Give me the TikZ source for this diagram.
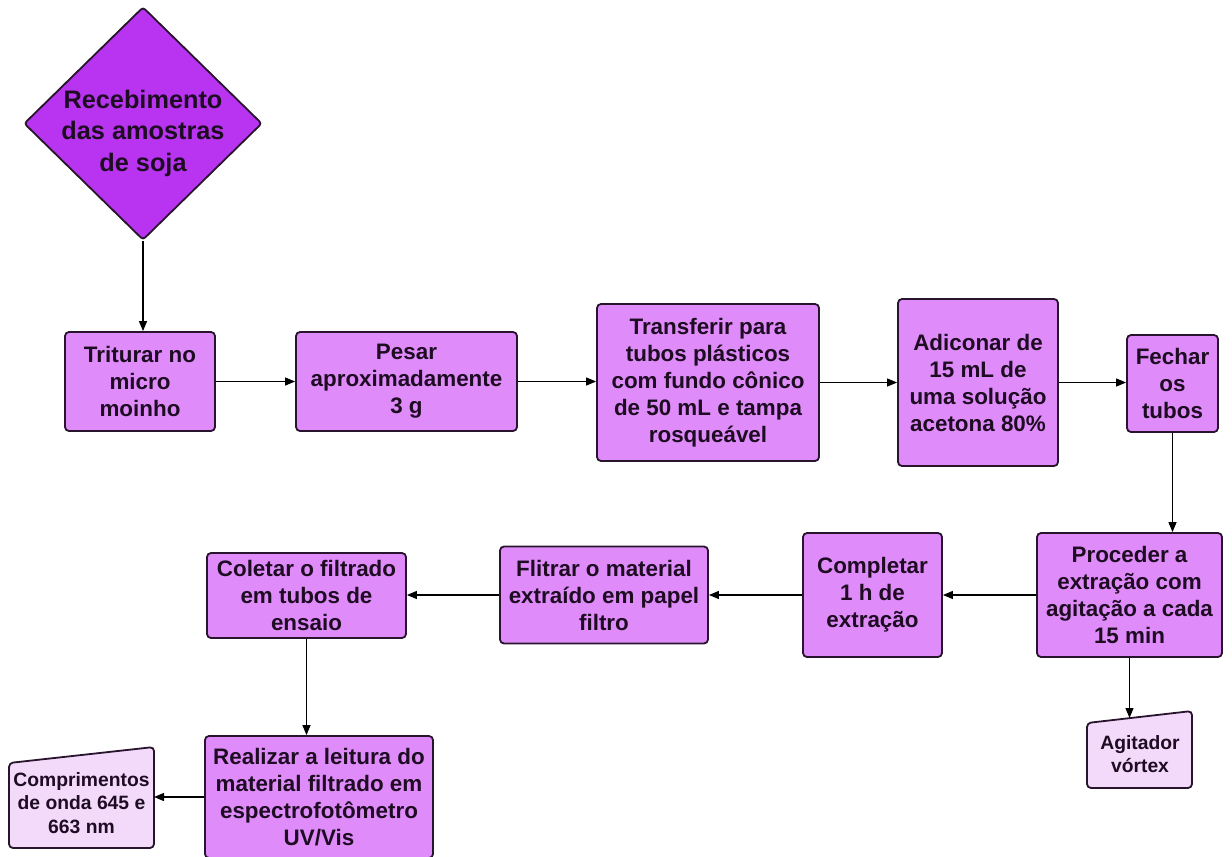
\documentclass[tikz,border=0pt]{standalone}
\usepackage{fontspec}
\setmainfont{Liberation Sans}
\usetikzlibrary{shapes.geometric,arrows.meta}
\definecolor{diamfill}{RGB}{185,52,240}
\definecolor{boxfill}{RGB}{224,139,250}
\definecolor{trapfill}{RGB}{243,218,251}
\definecolor{edge}{RGB}{40,20,45}
\definecolor{txt}{RGB}{30,12,35}
\begin{document}
\begin{tikzpicture}[x=1pt,y=-1pt,
  box/.style={draw=edge, fill=boxfill, line width=1.8pt, rounded corners=4pt, align=center, inner sep=0pt, text=txt, font=\bfseries\fontsize{22.4}{27}\selectfont},
  trap/.style={draw=edge, fill=trapfill, line width=1.8pt, rounded corners=4pt},
  traptext/.style={align=center, inner sep=0pt, text=txt, font=\bfseries\fontsize{19.3}{23.5}\selectfont},
  arr/.style={-{Triangle[length=10pt,width=8pt]}, line width=1.2pt, draw=black}]
\useasboundingbox (0,0) rectangle (1232,857);
\fill[white] (0,0) rectangle (1232,857);

% diamond
\node[diamond, draw=edge, fill=diamfill, line width=1.8pt, rounded corners=3pt, minimum width=238pt, minimum height=233pt, inner sep=0pt] (diam) at (143,123.5) {};
\node[align=center, inner sep=0pt, text=txt, font=\bfseries\fontsize{25.3}{31.5}\selectfont] (diamt) at (143,133) {Recebimento\\das amostras\\de soja};

% top row
\node[box, minimum width=150pt, minimum height=99pt] (b1) at (140,381.5) {Triturar no\\micro\\moinho};
\node[box, minimum width=221pt, minimum height=99pt] (b2) at (406.5,381.5) {Pesar\\aproximadamente\\3 g};
\node[box, minimum width=222pt, minimum height=157pt] (b3) at (708,382.5) {Transferir para\\tubos plásticos\\com fundo cônico\\de 50 mL e tampa\\rosqueável};
\node[box, minimum width=160pt, minimum height=167pt] (b4) at (978,382.5) {Adiconar de\\15 mL de\\uma solução\\acetona 80\%};
\node[box, minimum width=91pt, minimum height=97pt] (b5) at (1172.5,383.5) {Fechar\\os\\tubos};

% middle row
\node[box, minimum width=185pt, minimum height=124pt] (b6) at (1129.5,595) {Proceder a\\extração com\\agitação a cada\\15 min};
\node[box, minimum width=139pt, minimum height=124pt] (b7) at (872.5,595) {Completar\\1 h de\\extração};
\node[box, minimum width=208pt, minimum height=97pt] (b8) at (604,595) {Flitrar o material\\extraído em papel\\filtro};
\node[box, minimum width=199pt, minimum height=85pt] (b9) at (306.5,595.5) {Coletar o filtrado\\em tubos de\\ensaio};

% bottom
\node[box, minimum width=228pt, minimum height=122pt] (b10) at (319,797) {Realizar a leitura do\\material filtrado em\\espectrofotômetro\\UV/Vis};

% trapezoids
\draw[trap] (1087,723) -- (1192,711) -- (1192,788) -- (1087,788) -- cycle;
\node[traptext] (agit) at (1140,754) {Agitador\\vórtex};
\coordinate (agtop) at (1128,718);

\draw[trap] (9,763) -- (154,747) -- (154,848) -- (9,848) -- cycle;
\node[traptext] (comp) at (81.5,803) {Comprimentos\\de onda 645 e\\663 nm};
\coordinate (compr) at (154,797);

% connectors
\draw[arr] (diam.south) -- (diam.south |- b1.north);
\draw[arr] (b1.east) -- (b1.east -| b2.west);
\draw[arr] (b2.east) -- (b2.east -| b3.west);
\draw[arr] (b3.east) -- (b3.east -| b4.west);
\draw[arr] (b4.east) -- (b4.east -| b5.west);
\draw[arr] (b5.south) -- (b5.south |- b6.north);
\draw[arr] (b6.west) -- (b6.west -| b7.east);
\draw[arr] (b7.west) -- (b7.west -| b8.east);
\draw[arr] (b8.west) -- (b8.west -| b9.east);
\draw[arr] (b9.south) -- (b9.south |- b10.north);
\draw[arr] (b6.south) -- (b6.south |- agtop);
\draw[arr] (b10.west) -- (b10.west -| compr);
\end{tikzpicture}
\end{document}
